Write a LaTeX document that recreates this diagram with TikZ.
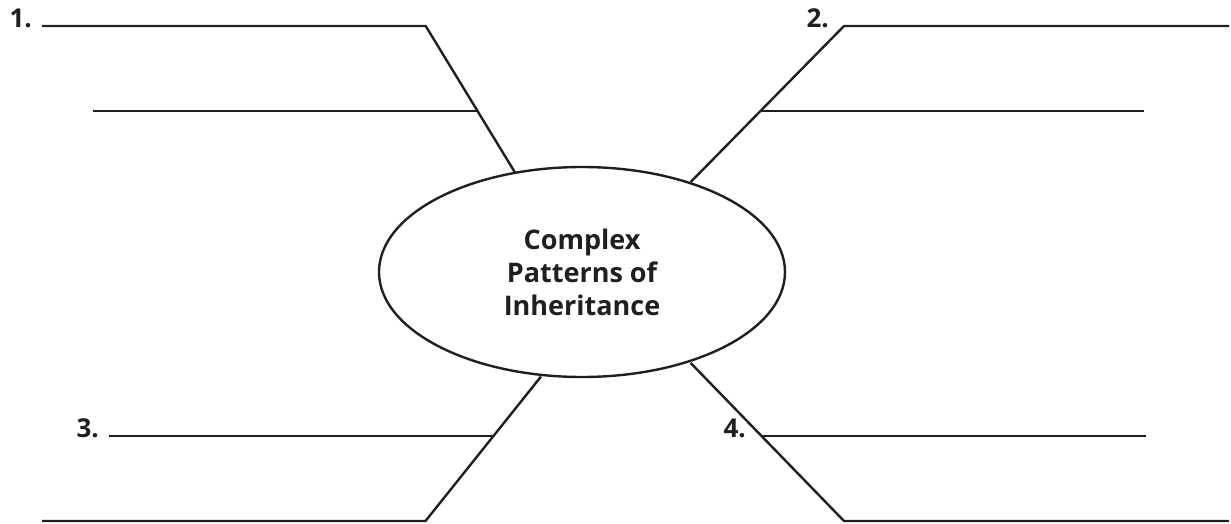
\documentclass[tikz,border=0pt]{standalone}
\usepackage{fontspec}
\setmainfont{Open Sans}
\usetikzlibrary{shapes.geometric}
\begin{document}
\begin{tikzpicture}[x=1pt,y=-1pt,
  ln/.style={line width=2.4pt,color=black!88},
  lbl/.style={font=\fontsize{26}{30}\selectfont\bfseries,inner sep=0pt,anchor=base east,text=black!88},
  topic/.style={ellipse,draw,line width=2.4pt,color=black!88,minimum width=406,minimum height=210,inner sep=0pt,
    align=center,font=\fontsize{27}{33}\selectfont\bfseries}]
\useasboundingbox (0,0) rectangle (1231,523);
\node[topic] (e) at (582,272) {Complex\\Patterns of\\Inheritance};
% attach points on the ellipse
\coordinate (p1) at (515,172.5);
\coordinate (p2) at (690.7,182);
\coordinate (p3) at (541,376.5);
\coordinate (p4) at (690.7,363);
% corners
\coordinate (c1) at (425.7,26);
\coordinate (c2) at (844,26);
\coordinate (c3) at (425.5,521);
\coordinate (c4) at (844,521);
% line ends
\coordinate (a1) at (42,26);
\coordinate (a2) at (1229,26);
\coordinate (a3) at (42,521);
\coordinate (a4) at (1229,521);
\coordinate (b1s) at (93,111);
\coordinate (b1e) at (477.6,111);
\coordinate (b2s) at (760.5,111);
\coordinate (b2e) at (1144,111);
\coordinate (b3s) at (109,436);
\coordinate (b3e) at (494,436);
\coordinate (b4s) at (761.7,436);
\coordinate (b4e) at (1146,436);
\draw[ln] (a1) -- (c1) -- (p1);
\draw[ln] (a2) -- (c2) -- (p2);
\draw[ln] (a3) -- (c3) -- (p3);
\draw[ln] (a4) -- (c4) -- (p4);
\draw[ln] (b1s) -- (b1e);
\draw[ln] (b2s) -- (b2e);
\draw[ln] (b3s) -- (b3e);
\draw[ln] (b4s) -- (b4e);
\node[lbl] (l1) at (32,27) {1.};
\node[lbl] (l2) at (829,27) {2.};
\node[lbl] (l3) at (99,437) {3.};
\node[lbl] (l4) at (746,437) {4.};
\end{tikzpicture}
\end{document}
